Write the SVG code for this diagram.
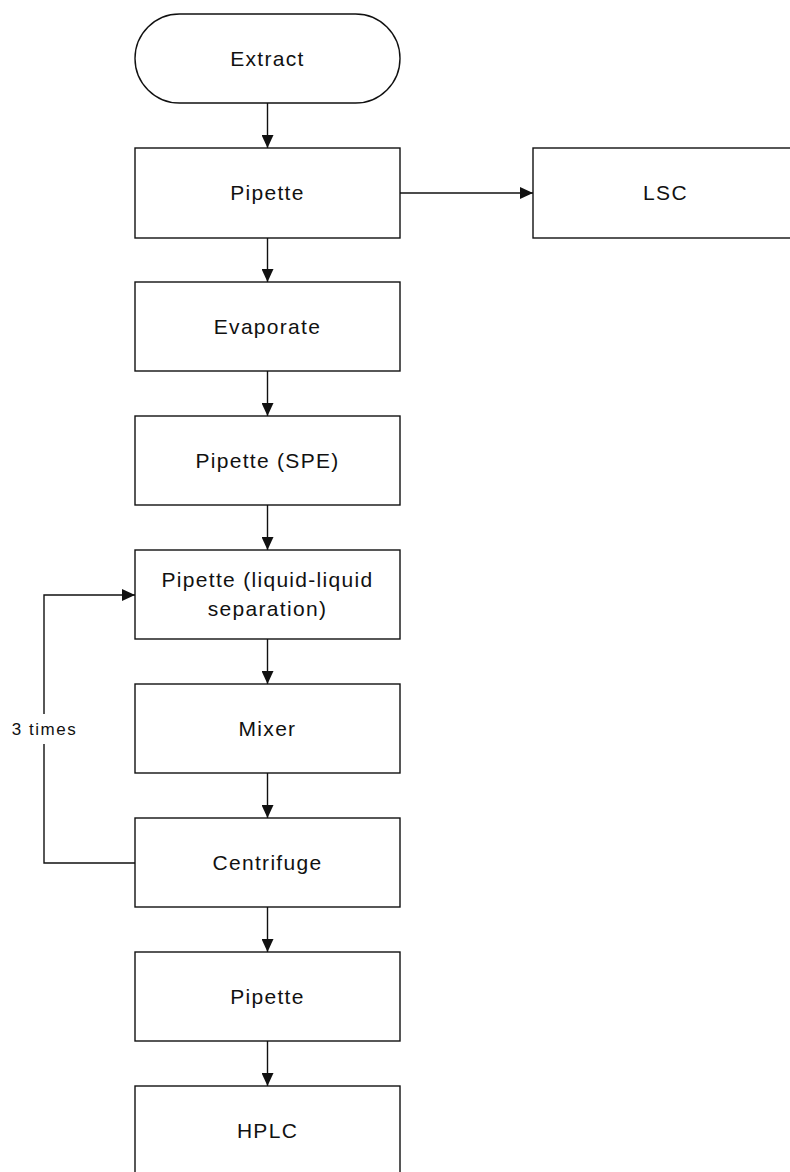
<svg xmlns="http://www.w3.org/2000/svg" width="790" height="1172" viewBox="0 0 790 1172">
  <style>
    .box { fill: #ffffff; stroke: #111111; stroke-width: 1.4; }
    .lbl { font-family: "Liberation Sans", Arial, sans-serif; font-size: 21px; letter-spacing: 1.3px; fill: #111111; text-anchor: middle; }
    .small { font-family: "Liberation Sans", Arial, sans-serif; font-size: 17px; letter-spacing: 1.5px; fill: #111111; text-anchor: middle; }
    .wire { fill: none; stroke: #111111; stroke-width: 1.4; }
  </style>
  <defs>
    <marker id="arrow" viewBox="0 0 13 12" refX="13" refY="6" markerWidth="13" markerHeight="12" markerUnits="userSpaceOnUse" orient="auto">
      <path d="M0,0 L13,6 L0,12 Z" fill="#111111"/>
    </marker>
  </defs>
  <rect width="790" height="1172" fill="#ffffff"/>

  <!-- process steps -->
  <g id="extract">
    <rect class="box" x="135" y="14" width="265" height="89" rx="44.5" ry="44.5"/>
    <text class="lbl" x="267.5" y="66">Extract</text>
  </g>
  <g id="pipette1">
    <rect class="box" x="135" y="148" width="265" height="90"/>
    <text class="lbl" x="267.5" y="200">Pipette</text>
  </g>
  <g id="lsc">
    <rect class="box" x="533" y="148" width="265" height="90"/>
    <text class="lbl" x="665.5" y="200">LSC</text>
  </g>
  <g id="evaporate">
    <rect class="box" x="135" y="282" width="265" height="89"/>
    <text class="lbl" x="267.5" y="334">Evaporate</text>
  </g>
  <g id="pipette-spe">
    <rect class="box" x="135" y="416" width="265" height="89"/>
    <text class="lbl" x="267.5" y="468">Pipette (SPE)</text>
  </g>
  <g id="pipette-lle">
    <rect class="box" x="135" y="550" width="265" height="89"/>
    <text class="lbl" x="267.5" y="587">Pipette (liquid-liquid</text>
    <text class="lbl" x="267.5" y="616">separation)</text>
  </g>
  <g id="mixer">
    <rect class="box" x="135" y="684" width="265" height="89"/>
    <text class="lbl" x="267.5" y="736">Mixer</text>
  </g>
  <g id="centrifuge">
    <rect class="box" x="135" y="818" width="265" height="89"/>
    <text class="lbl" x="267.5" y="870">Centrifuge</text>
  </g>
  <g id="pipette2">
    <rect class="box" x="135" y="952" width="265" height="89"/>
    <text class="lbl" x="267.5" y="1004">Pipette</text>
  </g>
  <g id="hplc">
    <rect class="box" x="135" y="1086" width="265" height="100"/>
    <text class="lbl" x="267.5" y="1138">HPLC</text>
  </g>

  <!-- connectors -->
  <g id="connectors">
    <line class="wire" x1="267.5" y1="103" x2="267.5" y2="148" marker-end="url(#arrow)"/>
    <line class="wire" x1="400" y1="193" x2="533" y2="193" marker-end="url(#arrow)"/>
    <line class="wire" x1="267.5" y1="238" x2="267.5" y2="282" marker-end="url(#arrow)"/>
    <line class="wire" x1="267.5" y1="371" x2="267.5" y2="416" marker-end="url(#arrow)"/>
    <line class="wire" x1="267.5" y1="505" x2="267.5" y2="550" marker-end="url(#arrow)"/>
    <line class="wire" x1="267.5" y1="639" x2="267.5" y2="684" marker-end="url(#arrow)"/>
    <line class="wire" x1="267.5" y1="773" x2="267.5" y2="818" marker-end="url(#arrow)"/>
    <line class="wire" x1="267.5" y1="907" x2="267.5" y2="952" marker-end="url(#arrow)"/>
    <line class="wire" x1="267.5" y1="1041" x2="267.5" y2="1086" marker-end="url(#arrow)"/>
    <!-- repeat loop from Centrifuge back to liquid-liquid separation -->
    <polyline class="wire" points="135,863 44,863 44,744"/>
    <polyline class="wire" points="44,714 44,595 135,595" marker-end="url(#arrow)"/>
    <text class="small" x="44.5" y="735">3 times</text>
  </g>
</svg>
